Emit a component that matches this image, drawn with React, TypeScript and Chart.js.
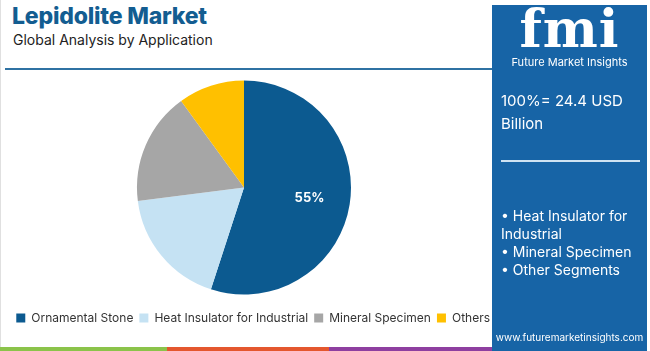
import React, { useEffect, useRef } from "react";
import { Chart, registerables } from "chart.js";

Chart.register(...registerables);

const categories = ["Ornamental Stone", "Heat Insulator for Industrial", "Mineral Specimen", "Others"];
const shares = [55, 18, 17, 10];
const colors = ["#0c5a90", "#c5e2f3", "#a6a6a6", "#ffc000"];
const bullets = ["• Heat Insulator for Industrial", "• Mineral Specimen", "• Other Segments"];

const FONT = "Inter, 'Open Sans', sans-serif";

const labelPlugin = {
  id: "sliceLabels",
  afterDatasetsDraw(chart: any) {
    const meta = chart.getDatasetMeta(0);
    const ctx = chart.ctx;
    ctx.save();
    meta.data.forEach((arc: any, i: number) => {
      const v = shares[i];
      if (v < 30) return;
      const p = arc.getProps(["x", "y", "startAngle", "endAngle", "outerRadius"], true);
      const mid = (p.startAngle + p.endAngle) / 2;
      const r = p.outerRadius * 0.62;
      ctx.fillStyle = "#ffffff";
      ctx.font = "bold 13px " + FONT;
      ctx.textAlign = "center";
      ctx.textBaseline = "middle";
      ctx.fillText(v + "%", p.x + Math.cos(mid) * r, p.y + Math.sin(mid) * r);
    });
    ctx.restore();
  },
};

function PieChart() {
  const ref = useRef<HTMLCanvasElement>(null);
  useEffect(() => {
    if (!ref.current) return;
    const chart = new Chart(ref.current, {
      type: "pie",
      data: {
        labels: categories,
        datasets: [{ data: shares, backgroundColor: colors, borderWidth: 0, radius: 107 }],
      },
      options: {
        animation: false,
        responsive: false,
        maintainAspectRatio: false,
        layout: { padding: { top: 5, bottom: 0, left: 0, right: 16 } },
        plugins: {
          tooltip: { enabled: false },
          legend: {
            position: "bottom",
            align: "end",
            labels: {
              boxWidth: 9,
              boxHeight: 9,
              padding: 6,
              color: "#333333",
              font: { size: 12, family: FONT },
            },
          },
        },
      },
      plugins: [labelPlugin],
    });
    return () => chart.destroy();
  }, []);
  return <canvas ref={ref} width={520} height={270} style={{ position: "absolute", left: -8, top: 64 }} />;
}

export default function App() {
  return (
    <div style={{ position: "fixed", left: 0, top: 0, width: 650, height: 351, background: "#ffffff", overflow: "hidden", fontFamily: FONT }}>
      <div style={{ position: "absolute", left: 0, top: 0, width: 1, height: 351, background: "#e0e0e0" }} />
      <div style={{ position: "absolute", left: 12, top: 2, fontSize: 23, fontWeight: 800, color: "#135d91", letterSpacing: -0.2 }}>Lepidolite Market</div>
      <div style={{ position: "absolute", left: 13, top: 31, fontSize: 14, color: "#222222" }}>Global Analysis by Application</div>
      <div style={{ position: "absolute", left: 5, top: 68, width: 487, height: 2, background: "#2f72a3" }} />
      <PieChart />
      <div style={{ position: "absolute", left: 0, top: 347, width: 167, height: 4, background: "#8bc34a" }} />
      <div style={{ position: "absolute", left: 167, top: 347, width: 162, height: 4, background: "#e4572e" }} />
      <div style={{ position: "absolute", left: 329, top: 347, width: 163, height: 4, background: "#8e3fa0" }} />
      <div style={{ position: "absolute", left: 492, top: 5, width: 155, height: 346, background: "#1764a6", color: "#ffffff" }}>
        <div style={{ position: "absolute", left: 0, top: -4, width: 155, textAlign: "center", fontFamily: "'DejaVu Serif', serif", fontWeight: 900, fontSize: 52, lineHeight: "56px", letterSpacing: 1 }}>fmi</div>
        <div style={{ position: "absolute", left: 0, top: 50, width: 155, textAlign: "center", fontSize: 11 }}>Future Market Insights</div>
        <div style={{ position: "absolute", left: 9, top: 84, fontSize: 15, lineHeight: "23px", width: 140 }}>100%= 24.4 USD<br />Billion</div>
        <div style={{ position: "absolute", left: 9, top: 155, width: 139, height: 1.5, background: "#cfe3f3" }} />
        <div style={{ position: "absolute", left: 9, top: 202, fontSize: 14, lineHeight: "18px", width: 140 }}>
          {bullets.map((b) => (
            <div key={b}>{b}</div>
          ))}
        </div>
        <div style={{ position: "absolute", left: 0, top: 326, width: 155, textAlign: "center", fontSize: 10 }}>www.futuremarketinsights.com</div>
      </div>
    </div>
  );
}
